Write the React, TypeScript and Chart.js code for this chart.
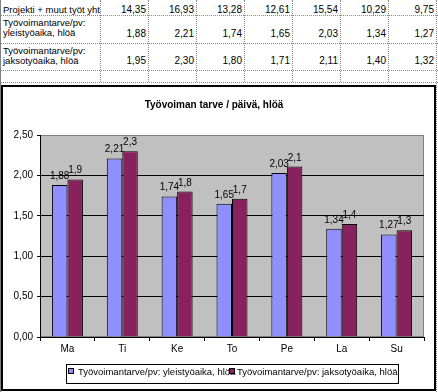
import React, { useEffect, useRef } from "react";
import { Chart, registerables } from "chart.js";

Chart.register(...registerables);

// ---------- data ----------
const categories = ["Ma", "Ti", "Ke", "To", "Pe", "La", "Su"];
const rowLabels = [
  "Projekti + muut työt yht",
  "Työvoimantarve/pv:\nyleistyöaika, hlöä",
  "Työvoimantarve/pv:\njaksotyöaika, hlöä",
];
const projectTotals = [14.35, 16.93, 13.28, 12.61, 15.54, 10.29, 9.75];
const generalHours = [1.88, 2.21, 1.74, 1.65, 2.03, 1.34, 1.27];
const periodHours = [1.95, 2.3, 1.8, 1.71, 2.11, 1.4, 1.32];
const seriesNames = [
  "Työvoimantarve/pv: yleistyöaika, hlöä",
  "Työvoimantarve/pv: jaksotyöaika, hlöä",
];
const seriesColors = ["#8f8fff", "#88225f"];
const labelDecimals = [2, 1];
const chartTitle = "Työvoiman tarve / päivä, hlöä";
const yMin = 0;
const yMax = 2.5;
const yStep = 0.5;

// ---------- layout / style ----------
const FONT_TEXT = '"Liberation Sans", Arial, sans-serif';
const FONT_NUM = '"Liberation Sans Narrow", "Liberation Sans", Arial, sans-serif';
const colEdges = [0, 100, 148, 196, 244, 292, 340, 388, 436];
const rowLines = [15, 43, 70, 82];
const rowLabelBaselines = [[13], [26.7, 36.7], [54, 64]];
const rowNumBaselines = [13, 37.5, 64.5];
const legendBox = { left: 66, top: 279, width: 332, height: 19 };
const legendMarkerX = [68, 229];
const legendTextX = [78, 237];

const fmt = (v: number, d: number) => v.toFixed(d).replace(".", ",");

const framePlugin = {
  id: "frame",
  beforeDraw(chart: any) {
    const { ctx, chartArea: a } = chart;
    ctx.save();
    ctx.fillStyle = "#fff";
    ctx.fillRect(1, 0, 435, 306);
    ctx.strokeStyle = "#000";
    ctx.lineWidth = 2;
    ctx.strokeRect(2, 1, 433, 304);
    ctx.fillStyle = "#c0c0c0";
    ctx.fillRect(a.left, a.top, a.right - a.left, a.bottom - a.top);
    ctx.strokeStyle = "#808080";
    ctx.lineWidth = 1;
    ctx.strokeRect(a.left + 0.5, a.top + 0.5, a.right - a.left - 1, a.bottom - a.top - 1);
    ctx.restore();
  },
};

const valueLabelPlugin = {
  id: "valueLabels",
  afterDatasetsDraw(chart: any) {
    const { ctx } = chart;
    ctx.save();
    ctx.font = `10px ${FONT_NUM}`;
    ctx.fillStyle = "#000";
    ctx.textAlign = "center";
    ctx.textBaseline = "alphabetic";
    chart.data.datasets.forEach((ds: any, i: number) => {
      const meta = chart.getDatasetMeta(i);
      meta.data.forEach((el: any, j: number) => {
        ctx.fillText(fmt(ds.data[j], labelDecimals[i]), el.x, el.y - 6);
      });
    });
    ctx.restore();
  },
};

const legendPlugin = {
  id: "boxLegend",
  afterDraw(chart: any) {
    const { ctx } = chart;
    ctx.save();
    ctx.strokeStyle = "#000";
    ctx.lineWidth = 1;
    ctx.strokeRect(legendBox.left + 0.5, legendBox.top + 0.5, legendBox.width, legendBox.height);
    ctx.font = `9.5px ${FONT_TEXT}`;
    ctx.textBaseline = "alphabetic";
    ctx.textAlign = "left";
    chart.data.datasets.forEach((ds: any, i: number) => {
      const mx = legendMarkerX[i];
      const my = legendBox.top + 4;
      ctx.fillStyle = ds.backgroundColor;
      ctx.fillRect(mx, my, 6, 6);
      ctx.strokeStyle = "#000";
      ctx.strokeRect(mx + 0.5, my + 0.5, 5, 5);
      ctx.fillStyle = "#000";
      ctx.fillText(ds.label, legendTextX[i], legendBox.top + 11);
    });
    ctx.restore();
  },
};

export default function App() {
  const ref = useRef<HTMLCanvasElement>(null);

  useEffect(() => {
    document.body.style.margin = "0";
    const canvas = ref.current!;
    const chart = new Chart(canvas, {
      type: "bar",
      data: {
        labels: categories,
        datasets: [
          {
            label: seriesNames[0],
            data: generalHours,
            backgroundColor: seriesColors[0],
            borderColor: "#000",
            borderWidth: 1,
            categoryPercentage: 0.565,
            barPercentage: 1,
          },
          {
            label: seriesNames[1],
            data: periodHours,
            backgroundColor: seriesColors[1],
            borderColor: "#000",
            borderWidth: 1,
            categoryPercentage: 0.565,
            barPercentage: 1,
          },
        ],
      },
      options: {
        responsive: false,
        animation: false,
        devicePixelRatio: 1,
        events: [],
        layout: { padding: { left: 4, right: 14, top: 0, bottom: 35 } },
        plugins: {
          legend: { display: false },
          tooltip: { enabled: false },
          title: {
            display: true,
            text: chartTitle,
            color: "#000",
            font: { family: FONT_TEXT, size: 10, weight: "bold" },
            padding: { top: 14, bottom: 24 },
          },
        },
        scales: {
          x: {
            afterFit: (s: any) => {
              s.height = 20;
            },
            grid: {
              drawOnChartArea: false,
              drawTicks: true,
              tickLength: 4,
              tickColor: "#000",
              offset: true,
            },
            border: { color: "#000", width: 1 },
            ticks: {
              color: "#000",
              font: { family: FONT_TEXT, size: 10 },
              padding: 2,
              maxRotation: 0,
              autoSkip: false,
            },
          },
          y: {
            min: yMin,
            max: yMax,
            afterFit: (s: any) => {
              s.width = 36;
            },
            grid: {
              color: (c: any) => (c.tick && c.tick.value === yMax ? "#808080" : "#000"),
              tickColor: "#000",
              tickLength: 3,
              drawTicks: true,
            },
            border: { color: "#000", width: 1 },
            ticks: {
              stepSize: yStep,
              color: "#000",
              font: { family: FONT_NUM, size: 10 },
              padding: 4,
              callback: (v: any) => fmt(Number(v), 2),
            },
          },
        },
      },
      plugins: [framePlugin, valueLabelPlugin, legendPlugin],
    } as any);
    return () => chart.destroy();
  }, []);

  const dotted = "1px dotted #8a8a8a";
  const rowValues = [projectTotals, generalHours, periodHours];

  return (
    <div
      style={{
        position: "relative",
        width: 438,
        height: 392,
        overflow: "hidden",
        background: "#fff",
        color: "#000",
        fontFamily: FONT_TEXT,
      }}
    >
      {/* sheet gridlines */}
      <div style={{ position: "absolute", left: 0, top: 0, width: 1, height: 392, background: "#808080" }} />
      <div style={{ position: "absolute", left: 436, top: 0, width: 0, height: 392, borderLeft: dotted }} />
      {colEdges.slice(1, -1).map((x, i) => (
        <div key={"v" + i} style={{ position: "absolute", left: x, top: 0, width: 0, height: rowLines[3], borderLeft: dotted }} />
      ))}
      {rowLines.map((y, i) => (
        <div key={"h" + i} style={{ position: "absolute", left: 1, top: y, width: 437, height: 0, borderTop: dotted }} />
      ))}
      {/* row labels */}
      {rowLabels.map((lab, r) =>
        lab.split("\n").map((line, k) => (
          <div
            key={"l" + r + "_" + k}
            style={{
              position: "absolute",
              left: 3,
              top: rowLabelBaselines[r][k] - 8.3,
              fontSize: 9.5,
              lineHeight: "10px",
              whiteSpace: "nowrap",
            }}
          >
            {line}
          </div>
        ))
      )}
      {/* values */}
      {rowValues.map((vals, r) =>
        vals.map((v, c) => (
          <div
            key={"n" + r + "_" + c}
            style={{
              position: "absolute",
              left: colEdges[c + 2] - 2 - 44,
              width: 44,
              textAlign: "right",
              top: rowNumBaselines[r] - 8.5,
              fontFamily: FONT_NUM,
              fontSize: 10,
              lineHeight: "10px",
              whiteSpace: "nowrap",
            }}
          >
            {fmt(v, 2)}
          </div>
        ))
      )}
      <canvas
        ref={ref}
        width={438}
        height={307}
        style={{ position: "absolute", left: 0, top: 85, width: 438, height: 307 }}
      />
    </div>
  );
}
